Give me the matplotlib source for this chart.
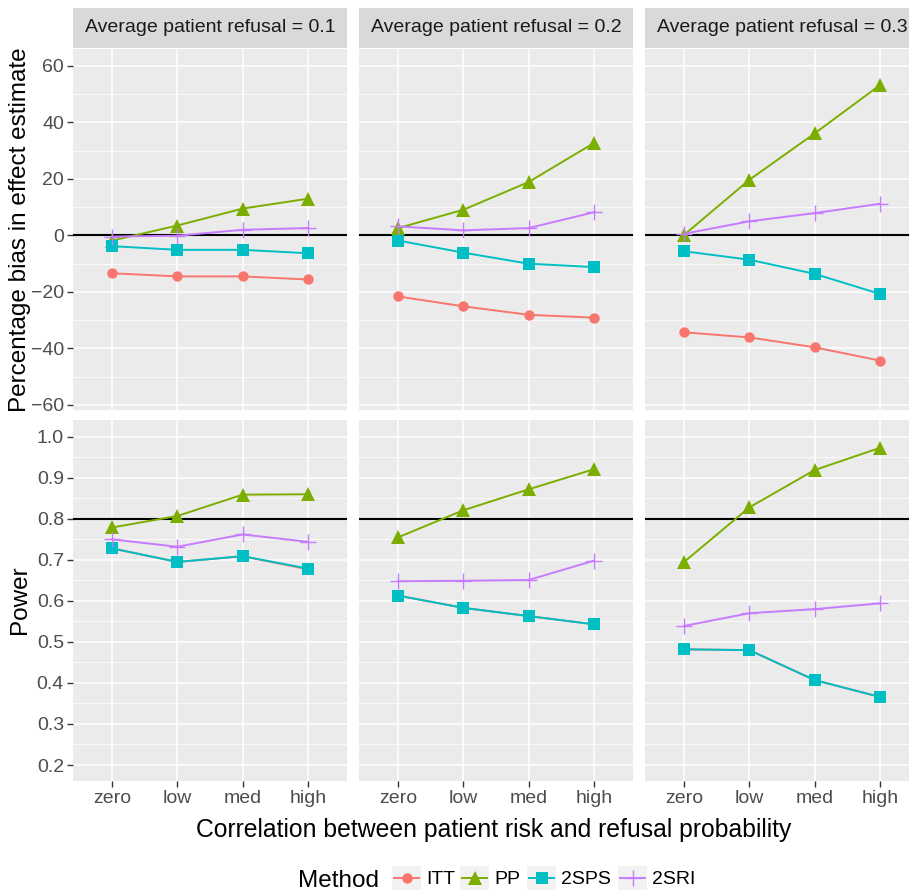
import numpy as np
import matplotlib.pyplot as plt
from matplotlib.patches import Rectangle
from matplotlib.lines import Line2D

plt.rcParams['font.family'] = ['Liberation Sans', 'DejaVu Sans']

# --- Daten --- #
categories = ['zero', 'low', 'med', 'high']
refusal_levels = ['0.1', '0.2', '0.3']
methods = ['ITT', 'PP', '2SPS', '2SRI']

# Prozentualer Bias, je Zeile ein Refusal-Level
bias_itt = [[-13.4, -14.5, -14.5, -15.6], [-21.6, -25.1, -28.1, -29.1], [-34.3, -36.1, -39.6, -44.3]]
bias_pp = [[-1.8, 3.5, 9.5, 13.0], [2.6, 9.1, 18.9, 32.7], [0.2, 19.7, 36.1, 53.2]]
bias_2sps = [[-3.8, -5.1, -5.1, -6.3], [-1.8, -6.1, -10.0, -11.2], [-5.6, -8.6, -13.6, -20.7]]
bias_2sri = [[-0.4, -0.1, 2.0, 2.6], [3.2, 1.8, 2.6, 8.2], [0.6, 5.0, 7.9, 11.2]]

# Power
power_itt = [[0.728, 0.695, 0.709, 0.677], [0.613, 0.583, 0.563, 0.543], [0.482, 0.480, 0.407, 0.366]]
power_pp = [[0.779, 0.807, 0.859, 0.860], [0.755, 0.821, 0.872, 0.921], [0.695, 0.828, 0.919, 0.973]]
power_2sps = [[0.728, 0.695, 0.709, 0.679], [0.613, 0.583, 0.563, 0.543], [0.482, 0.480, 0.407, 0.366]]
power_2sri = [[0.750, 0.732, 0.762, 0.744], [0.648, 0.649, 0.651, 0.698], [0.539, 0.570, 0.580, 0.594]]

bias = [bias_itt, bias_pp, bias_2sps, bias_2sri]
power = [power_itt, power_pp, power_2sps, power_2sri]

colors = ['#F8766D', '#7CAE00', '#00BFC4', '#C77CFF']
markers = ['o', '^', 's', '+']
msizes = [7.5, 9.5, 8, 12]

# --- Layout (Pixel) --- #
W, H = 909, 891
fig = plt.figure(figsize=(W / 100, H / 100), dpi=100)
col_left = [73, 359, 645]
panel_w = 274
rows = [(49, 410), (420, 781)]

def fx(px):
    return px / W

def fy(py):
    return 1 - py / H

x = np.arange(1, len(categories) + 1)

for r, (y0, y1) in enumerate(rows):
    data = bias if r == 0 else power
    for c, left in enumerate(col_left):
        ax = fig.add_axes([fx(left), fy(y1), panel_w / W, (y1 - y0) / H])
        ax.set_facecolor('#EBEBEB')
        for s in ax.spines.values():
            s.set_visible(False)
        ax.set_xlim(0.4, 4.6)
        if r == 0:
            ax.set_ylim(-61.8, 66)
            ax.set_yticks(np.arange(-60, 61, 20))
            ax.set_yticks(np.arange(-50, 61, 20), minor=True)
            ax.axhline(0, color='black', lw=1.5, zorder=2)
        else:
            ax.set_ylim(0.161, 1.041)
            ax.set_yticks(np.arange(0.2, 1.01, 0.1))
            ax.set_yticks(np.arange(0.25, 1.0, 0.1), minor=True)
            ax.axhline(0.8, color='black', lw=1.5, zorder=2)
        ax.set_xticks(x)
        ax.grid(True, which='major', color='white', lw=1.1, zorder=0)
        ax.grid(True, which='minor', axis='y', color='white', lw=0.55, zorder=0)
        ax.set_axisbelow(True)

        # erst alle Linien, dann alle Punkte (wie ggplot)
        for m in range(len(methods)):
            ax.plot(x, data[m][c], color=colors[m], lw=1.4, zorder=3)
        for m in range(len(methods)):
            mew = 1.0 if markers[m] == '+' else 0
            ax.plot(x, data[m][c], ls='none', marker=markers[m], ms=msizes[m],
                    color=colors[m], mew=mew, zorder=4)

        ax.tick_params(which='minor', length=0)
        ax.tick_params(which='major', color='#333333', length=4.5, width=1,
                       labelsize=14, labelcolor='#4D4D4D', pad=2)
        if c == 0:
            if r == 0:
                ax.set_yticklabels(['\u2212' + str(-v) if v < 0 else str(v) for v in range(-60, 61, 20)])
            else:
                ax.set_yticklabels(['{:.1f}'.format(v) for v in np.arange(0.2, 1.01, 0.1)])
        else:
            ax.tick_params(axis='y', length=0, labelleft=False)
        if r == 1:
            ax.set_xticklabels(categories)
        else:
            ax.tick_params(axis='x', length=0, labelbottom=False)

        # Facettenstreifen
        if r == 0:
            sax = fig.add_axes([fx(left), fy(48), panel_w / W, 40 / H])
            sax.set_facecolor('#D9D9D9')
            sax.set_xticks([])
            sax.set_yticks([])
            for s in sax.spines.values():
                s.set_visible(False)
            sax.text(0.5, 0.5, 'Average patient refusal = ' + refusal_levels[c],
                     ha='center', va='center', fontsize=14, color='#1A1A1A',
                     transform=sax.transAxes)

# Achsentitel
fig.text(fx(20), fy(229.5), 'Percentage bias in effect estimate', rotation=90,
         ha='center', va='center', fontsize=17.5)
fig.text(fx(20), fy(600), 'Power', rotation=90, ha='center', va='center', fontsize=17.5)
fig.text(fx(494), fy(830), 'Correlation between patient risk and refusal probability',
         ha='center', va='center', fontsize=17.8)

# Legende
fig.text(fx(298), fy(881), 'Method', ha='left', va='center', fontsize=17.5)
key_left = [392, 460, 527, 618]
for m, name in enumerate(methods):
    kl = key_left[m]
    fig.add_artist(Rectangle((fx(kl), fy(890)), 29 / W, 24 / H, transform=fig.transFigure,
                             facecolor='#F2F2F2', edgecolor='none'))
    fig.add_artist(Line2D([fx(kl + 2), fx(kl + 27)], [fy(878), fy(878)], transform=fig.transFigure,
                          color=colors[m], lw=1.4))
    mew = 1.0 if markers[m] == '+' else 0
    fig.add_artist(Line2D([fx(kl + 14.5)], [fy(878)], transform=fig.transFigure, ls='none',
                          marker=markers[m], ms=msizes[m], color=colors[m], mew=mew))
    fig.text(fx(kl + 34), fy(879), name, ha='left', va='center', fontsize=14)

fig.savefig('out.png', dpi=100)
